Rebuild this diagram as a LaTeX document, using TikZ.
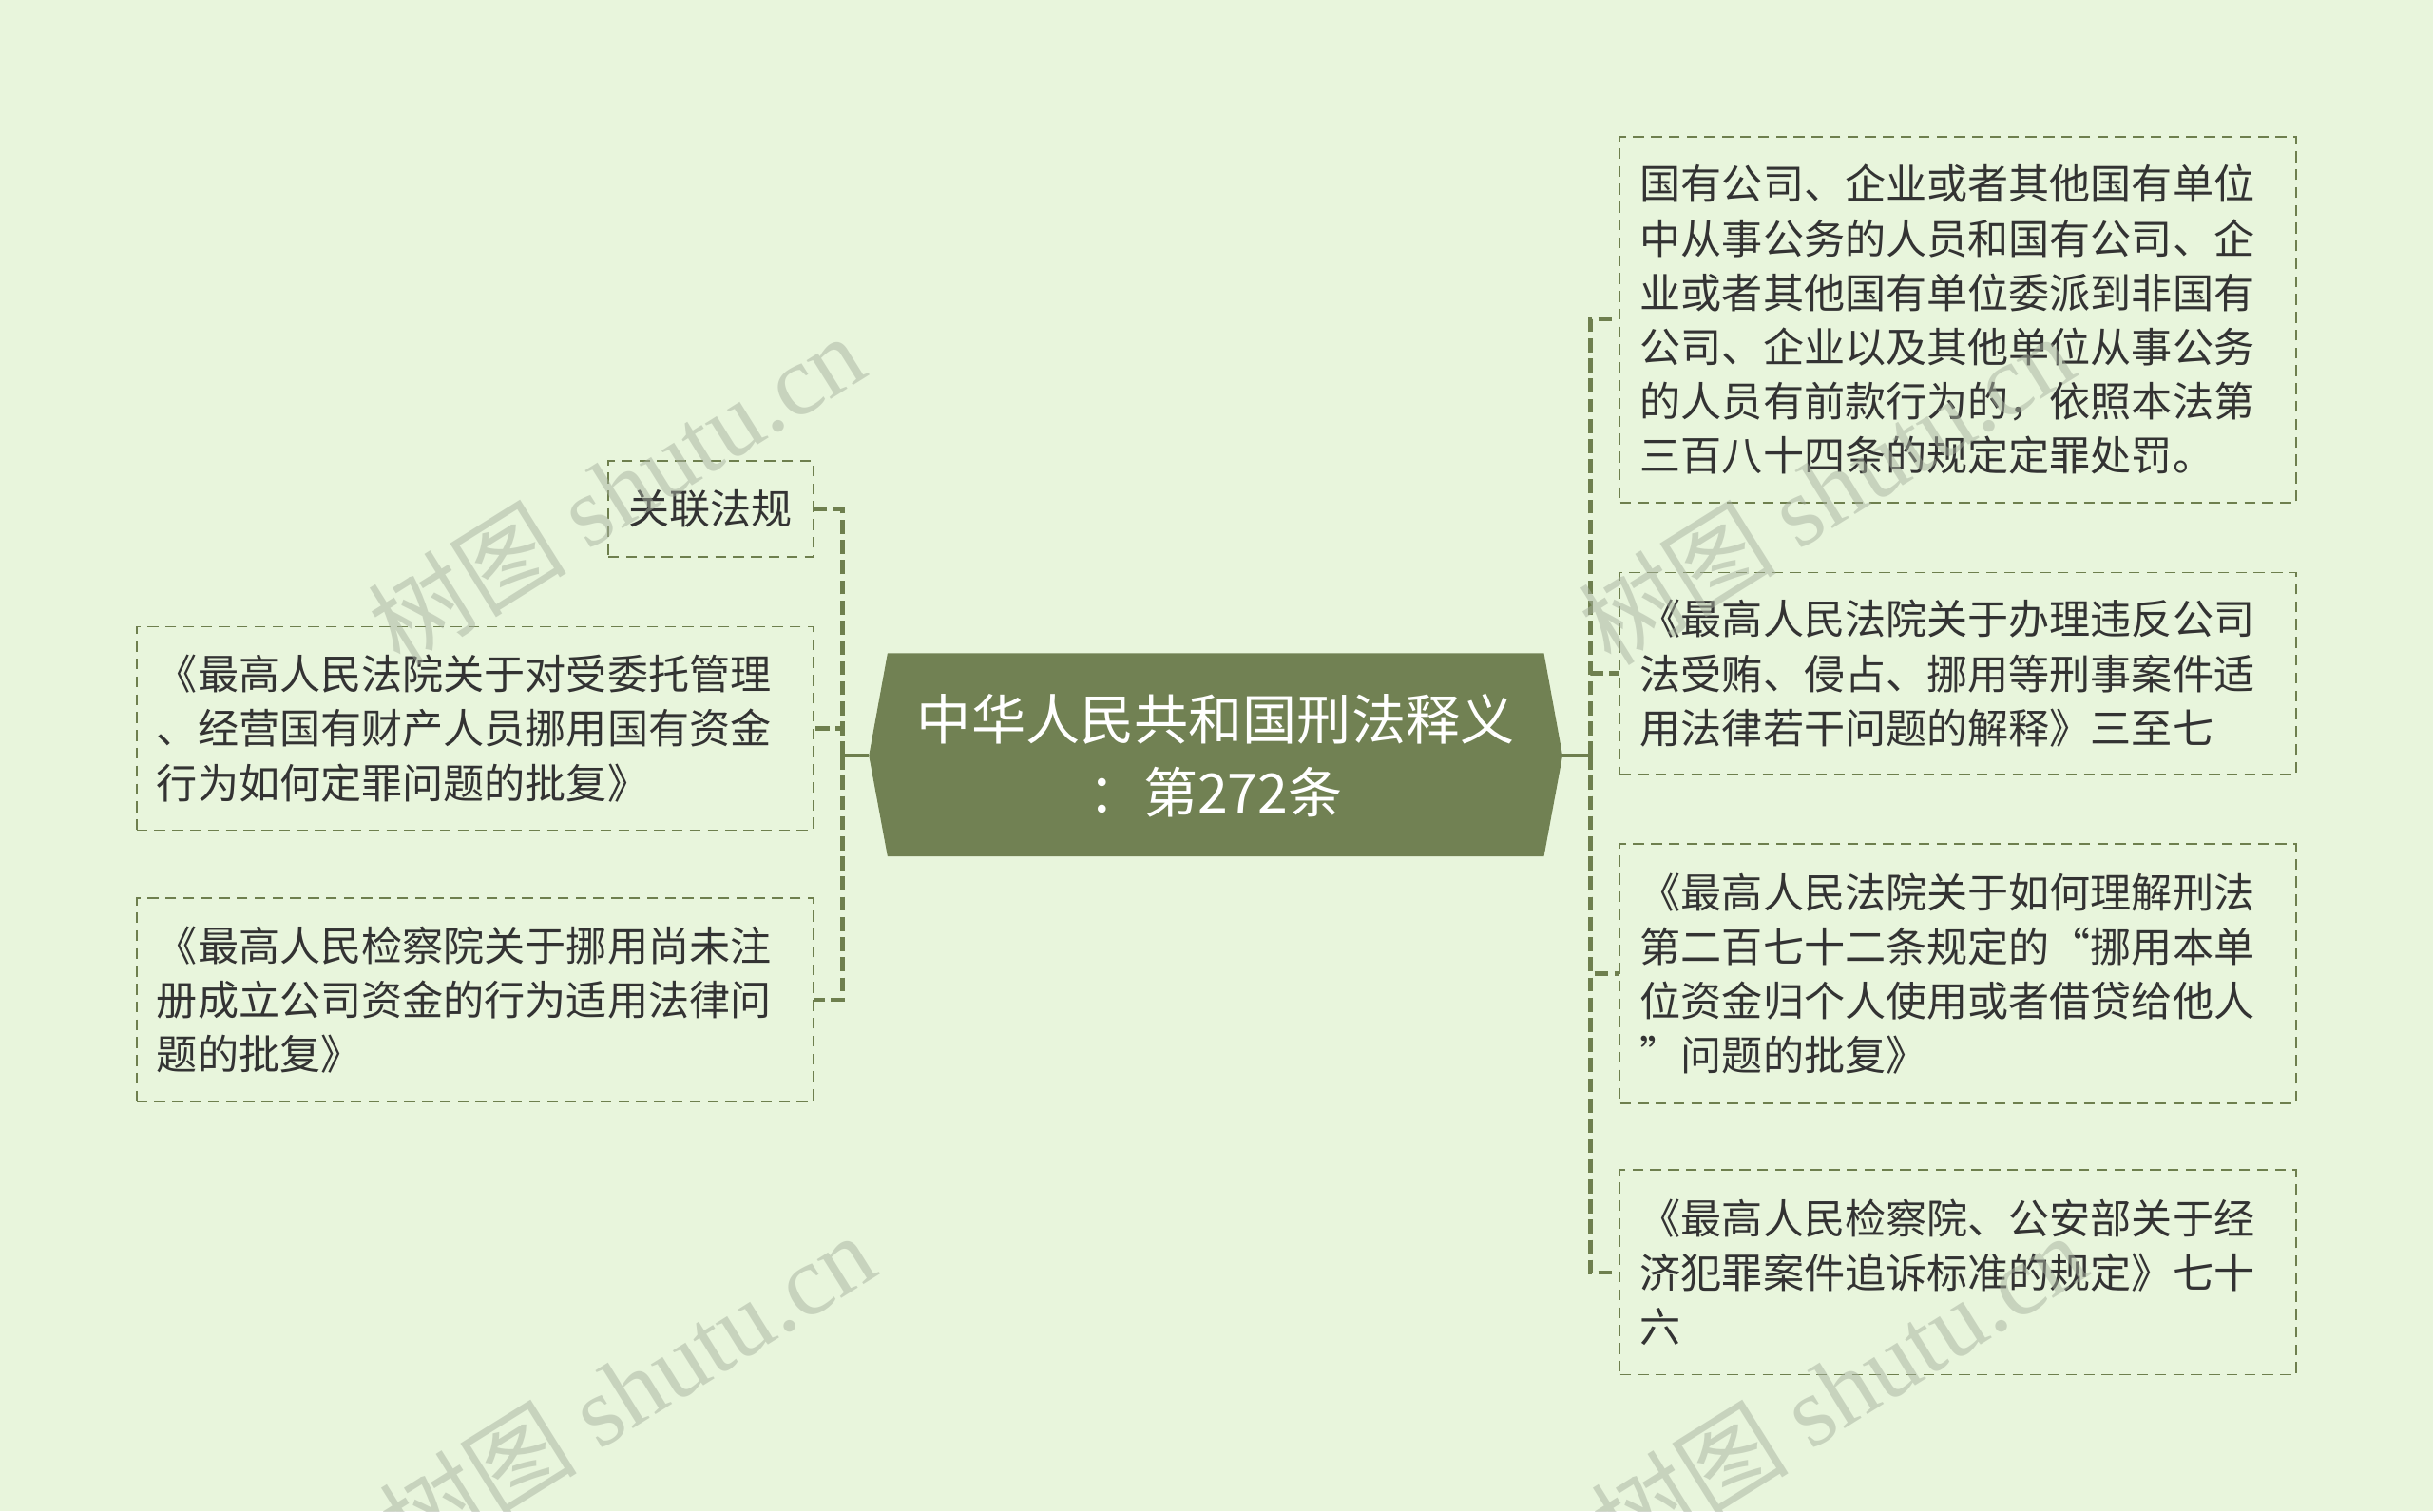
\documentclass[tikz,border=0pt]{standalone}
\usepackage{fontspec}
\setmainfont{Noto Sans CJK SC}
\newfontfamily\wmfont{Liberation Serif}
\usetikzlibrary{calc}
\definecolor{bgc}{HTML}{E8F5DC}
\definecolor{cfill}{HTML}{718153}
\definecolor{lnc}{HTML}{6E7F4E}
\definecolor{txc}{HTML}{333333}
\definecolor{wmc}{HTML}{A8B2A0}
\tikzset{
  leafbox/.style={draw=lnc, line width=1.1pt, dash pattern=on 7pt off 4.5pt,
    text=txc, align=left, anchor=center, inner xsep=13pt, inner ysep=0pt,
    font=\fontsize{26.4}{35}\selectfont},
  conn/.style={draw=lnc, line width=2.6pt, dash pattern=on 9pt off 4pt},
  stub/.style={draw=lnc, line width=2.6pt},
  ctext/.style={text=white, align=center, minimum width=447pt, minimum height=131pt,
    inner sep=0pt, font=\fontsize{35}{47}\selectfont},
  wm/.style={text=wmc, opacity=0.5, rotate=32, font=\fontsize{64}{64}\selectfont}
}
\begin{document}
\begin{tikzpicture}[x=1pt,y=-1pt]
\useasboundingbox (0,0) rectangle (1568,974);
\fill[bgc] (0,0) rectangle (1568,974);

% central node
\fill[cfill] (572,421) -- (995,421) -- (1007,487) -- (995,552) -- (572,552) -- (560,487) -- cycle;
\node[ctext] (c) at (783.5,487) {中华人民共和国刑法释义\\：第272条};

% left boxes
\node[leafbox, minimum width=132pt, minimum height=62pt, align=center] (L1) at (458,328) {关联法规};
\node[leafbox, minimum width=436pt, minimum height=131pt, text width=410pt] (L2) at (306,469.5)
  {《最高人民法院关于对受委托管理\\、经营国有财产人员挪用国有资金\\行为如何定罪问题的批复》};
\node[leafbox, minimum width=436pt, minimum height=131pt, text width=410pt] (L3) at (306,644.5)
  {《最高人民检察院关于挪用尚未注\\册成立公司资金的行为适用法律问\\题的批复》};

% right boxes
\node[leafbox, minimum width=436pt, minimum height=236pt, text width=410pt] (R1) at (1262,206)
  {国有公司、企业或者其他国有单位\\中从事公务的人员和国有公司、企\\业或者其他国有单位委派到非国有\\公司、企业以及其他单位从事公务\\的人员有前款行为的，依照本法第\\三百八十四条的规定定罪处罚。};
\node[leafbox, minimum width=436pt, minimum height=130pt, text width=410pt] (R2) at (1262,434)
  {《最高人民法院关于办理违反公司\\法受贿、侵占、挪用等刑事案件适\\用法律若干问题的解释》三至七};
\node[leafbox, minimum width=436pt, minimum height=167pt, text width=410pt] (R3) at (1262,627.5)
  {《最高人民法院关于如何理解刑法\\第二百七十二条规定的“挪用本单\\位资金归个人使用或者借贷给他人\\”问题的批复》};
\node[leafbox, minimum width=436pt, minimum height=132pt, text width=410pt] (R4) at (1262,820)
  {《最高人民检察院、公安部关于经\\济犯罪案件追诉标准的规定》七十\\六};

% buses
\coordinate (lb) at (543,487);
\coordinate (rb) at (1025,487);
\draw[stub] (c.west) -- (lb);
\draw[stub] (c.east) -- (rb);
\draw[conn] (lb) |- (L1.east);
\draw[conn] (lb) |- (L2.east);
\draw[conn] (lb) |- (L3.east);
\draw[conn] (rb) |- (R1.west);
\draw[conn] (rb) |- (R2.west);
\draw[conn] (rb) |- (R3.west);
\draw[conn] (rb) |- (R4.west);

% watermarks
\node[wm] (w1) at (397,315) {树图 {\wmfont shutu.cn}};
\node[wm] (w2) at (1177,315) {树图 {\wmfont shutu.cn}};
\node[wm] (w3) at (404,895) {树图 {\wmfont shutu.cn}};
\node[wm] (w4) at (1185,895) {树图 {\wmfont shutu.cn}};
\end{tikzpicture}
\end{document}
